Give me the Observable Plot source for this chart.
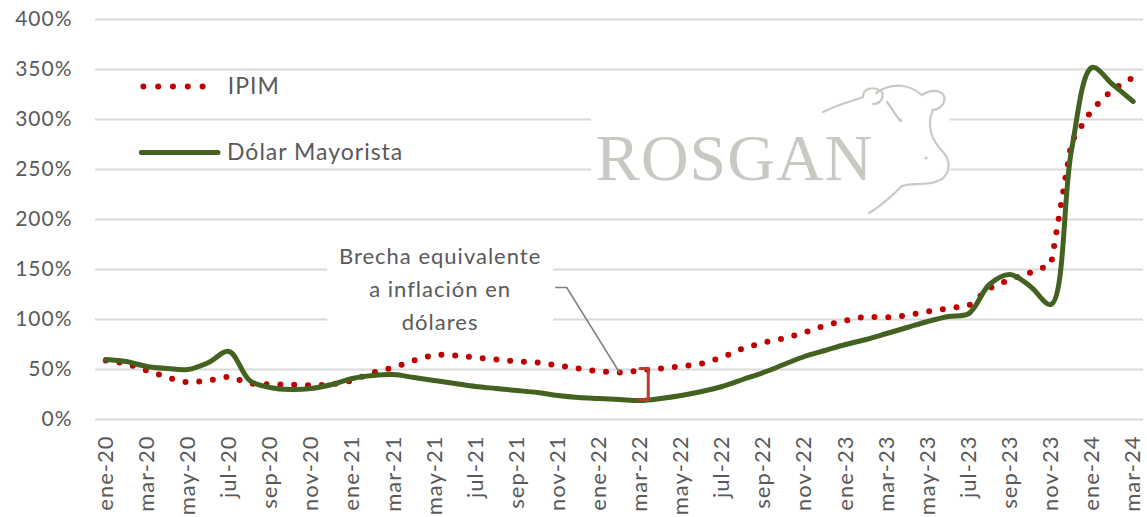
<!DOCTYPE html>
<html><head><meta charset="utf-8">
<script src="https://cdn.jsdelivr.net/npm/d3@7"></script>
<script src="https://cdn.jsdelivr.net/npm/@observablehq/plot@0.6"></script>
<style>body{margin:0;background:#fff} svg text{letter-spacing:1px}</style>
</head><body><div id="chart"></div>
<script>
const months = ["ene-20","feb-20","mar-20","abr-20","may-20","jun-20","jul-20","ago-20","sep-20","oct-20","nov-20","dic-20",
"ene-21","feb-21","mar-21","abr-21","may-21","jun-21","jul-21","ago-21","sep-21","oct-21","nov-21","dic-21",
"ene-22","feb-22","mar-22","abr-22","may-22","jun-22","jul-22","ago-22","sep-22","oct-22","nov-22","dic-22",
"ene-23","feb-23","mar-23","abr-23","may-23","jun-23","jul-23","ago-23","sep-23","oct-23","nov-23","dic-23",
"ene-24","feb-24","mar-24"];
const ipim = [59,56,49,42,37,39,43,36,35,35,34,35,
39,47,52,59,65,64,62,60,58,57,54,51,
48,47,49,51,53,56,62,71,77,81,87,94,
99,103,102,104,108,111,114,131,140,147,155,278,
310,330,342];
const dolar = [60,58,53,51,50,57,68,39,32,30,31,35,
41,44,45,42,39,36,33,31,29,27,24,22,
21,20,19,21,24,28,33,40,47,55,63,69,
75,80,86,92,98,103,106,135,145,133,115,270,
352,335,318];
const xTickLabels = ["ene-20","mar-20","may-20","jul-20","sep-20","nov-20","ene-21","mar-21","may-21","jul-21","sep-21","nov-21",
"ene-22","mar-22","may-22","jul-22","sep-22","nov-22","ene-23","mar-23","may-23","jul-23","sep-23","nov-23","ene-24","mar-24"];
const yTicks = [0,50,100,150,200,250,300,350,400];
const seriesNames = ["IPIM","Dólar Mayorista"];
const annotationText = "Brecha equivalente\na inflación en\ndólares";
const logoText = "ROSGAN";

// annotation anchors (data space: month index, %)
const legendIpimLine = [{x:1.83,y:333},{x:5.41,y:333}];
const legendDolarLine = [{x:1.73,y:267},{x:5.46,y:267}];
const legendLabels = [{x:5.94,y:333,t:seriesNames[0]},{x:5.9,y:267,t:seriesNames[1]}];
const noteBox = [{x1:10.8,x2:21.8,y1:81,y2:187}];
const logoBox = [{x1:23.64,x2:41.1,y1:207,y2:344}];
const notePos = [{x:16.27,y:133}];
const leader = [{x:21.9,y:132},{x:22.43,y:132},{x:25.0,y:47}];
const bracket = [{x:26.0,y:51},{x:26.4,y:51},{x:26.4,y:20},{x:25.95,y:20}];
const logoPos = [{x:23.85,y:261}];
const cowAnchor = {x:34.93,y:334};

const rows = months.map((m,i)=>({i, m, ipim: ipim[i], dolar: dolar[i]}));
const green = "#43611f", red = "#c00000", txt = "#595959";

function cow(index, scales) {
  const ox = scales.x(cowAnchor.x), oy = scales.y(cowAnchor.y);
  const g = d3.create("svg:g").attr("transform",`translate(${ox-826},${oy-85})`)
    .attr("fill","none").attr("stroke","#c9c9c4").attr("stroke-width",2.2).attr("stroke-linecap","round");
  const paths = [
    "M826,112 C842,104 856,101 866,97",
    "M866,97 C866,88 876,86 884,91 C888,96 884,104 876,104",
    "M879,93 C895,82 912,84 925,95",
    "M925,95 C938,87 952,92 946,104 C943,108 939,110 935,110",
    "M936,110 C929,124 934,140 946,152 C954,161 953,172 945,179",
    "M945,179 C931,187 917,182 905,186",
    "M905,186 C895,195 886,205 872,213",
    "M890,102 C896,110 900,118 904,121"
  ];
  for (const d of paths) g.append("path").attr("d", d);
  g.append("circle").attr("cx",903).attr("cy",120).attr("r",1.6).attr("fill","#c9c9c4").attr("stroke","none");
  g.append("circle").attr("cx",929).attr("cy",158).attr("r",1.6).attr("fill","#c9c9c4").attr("stroke","none");
  return g.node();
}

const chart = Plot.plot({
  width: 1147, height: 517,
  marginLeft: 95, marginRight: 4, marginTop: 19, marginBottom: 98,
  style: {fontFamily: "Lato, sans-serif", fontSize: "21px", color: txt, background: "#fff", overflow: "visible"},
  x: {type: "linear", domain: [-0.5, 50.5], axis: null},
  y: {domain: [0, 400], axis: null},
  marks: [
    Plot.gridY(yTicks, {stroke: "#d9d9d9", strokeOpacity: 1, strokeWidth: 2}),
    Plot.rect(logoBox, {x1:"x1", x2:"x2", y1:"y1", y2:"y2", fill:"#fff"}),
    Plot.rect(noteBox, {x1:"x1", x2:"x2", y1:"y1", y2:"y2", fill:"#fff"}),
    Plot.axisY(yTicks, {tickSize: 0, tickPadding: 23, tickFormat: d => d + "%", fontSize: 21, fill: txt}),
    Plot.axisX(xTickLabels.map(l => months.indexOf(l)), {tickSize: 0, tickRotate: -90, tickPadding: 16, tickFormat: i => months[i], fontSize: 22, fill: txt}),
    Plot.text(logoPos, {x:"x", y:"y", text: () => logoText, textAnchor:"start", fontFamily:"Liberation Serif, serif", fontSize: 66, fill:"#c9c9c4"}),
    cow,
    Plot.line(rows, {x:"i", y:"ipim", stroke: red, strokeWidth: 6, strokeDasharray: "0,13.8", strokeLinecap: "round"}),
    Plot.line(rows, {x:"i", y:"dolar", stroke: green, strokeWidth: 5, curve: "catmull-rom", strokeLinecap: "round"}),
    Plot.line(bracket, {x:"x", y:"y", stroke: "#c0392b", strokeWidth: 3}),
    Plot.line(leader, {x:"x", y:"y", stroke: "#808080", strokeWidth: 1.5}),
    Plot.text(notePos, {x:"x", y:"y", text: () => annotationText, fontSize: 22, lineHeight: 1.5, fill: txt}),
    Plot.line(legendIpimLine, {x:"x", y:"y", stroke: red, strokeWidth: 6, strokeDasharray: "0,14.8", strokeLinecap: "round"}),
    Plot.line(legendDolarLine, {x:"x", y:"y", stroke: green, strokeWidth: 5, strokeLinecap: "round"}),
    Plot.text(legendLabels, {x:"x", y:"y", text:"t", textAnchor:"start", fontSize: 23, fill: txt})
  ]
});
document.getElementById("chart").append(chart);
</script>
</body></html>
